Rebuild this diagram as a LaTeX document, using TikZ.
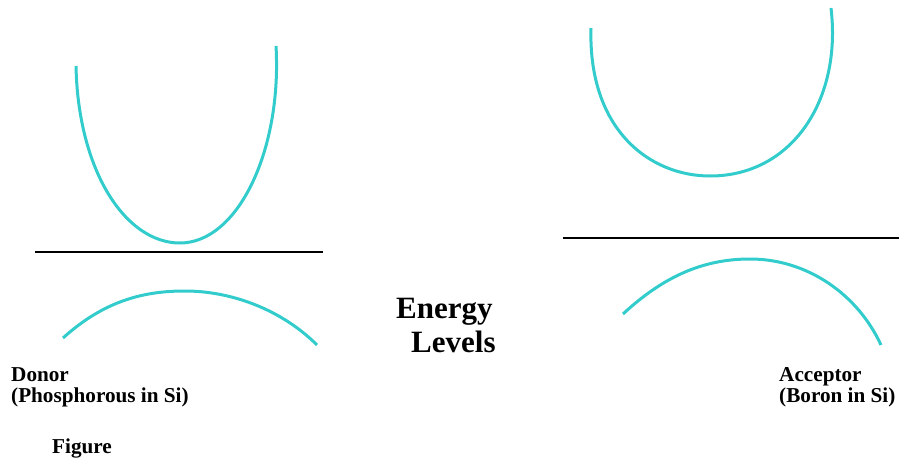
\documentclass[tikz,border=0pt]{standalone}
\usepackage{fontspec}
\setmainfont{Liberation Serif}
\definecolor{bandcol}{RGB}{51,204,204}
\begin{document}
\begin{tikzpicture}[
  x=1pt, y=-1pt,
  band/.style={draw=bandcol, line width=3pt},
  level/.style={draw=black, line width=1.6pt},
  lbl/.style={anchor=base west, inner sep=0pt, font=\bfseries\fontsize{21.2}{21}\selectfont, align=left},
  title/.style={anchor=base west, inner sep=0pt, font=\bfseries\fontsize{31}{34}\selectfont}
]
  \useasboundingbox (0,0) rectangle (900,460);

  % Donor (left)
  \draw[band] (76,66) .. controls (78,170) and (125,243) .. (180,243)
              .. controls (238,243) and (282,150) .. (276,46);
  \draw[level] (35,252) -- (323,252);
  \draw[band] (63,338) .. controls (105,300) and (145,291) .. (185,291)
              .. controls (232,291) and (282,310) .. (317,345);
  \node[lbl] (donor) at (11,381) {Donor};
  \node[lbl] (donorsub) at (11,402) {(Phosphorous in Si)};
  \node[lbl] (fig) at (52,453) {Figure};

  % Acceptor (right)
  \draw[band] (591,28) .. controls (588,130) and (650,176) .. (710,176)
              .. controls (792,176) and (842,100) .. (831,8);
  \draw[level] (563,238) -- (899,238);
  \draw[band] (623,314) .. controls (665,275) and (705,259) .. (750,259)
              .. controls (808,259) and (858,295) .. (881,345);
  \node[lbl] (acc) at (779,381) {Acceptor};
  \node[lbl] (accsub) at (779,402) {(Boron in Si)};

  % Middle title
  \node[title] (energy) at (396,318) {Energy};
  \node[title] (levels) at (411,352) {Levels};
\end{tikzpicture}
\end{document}
